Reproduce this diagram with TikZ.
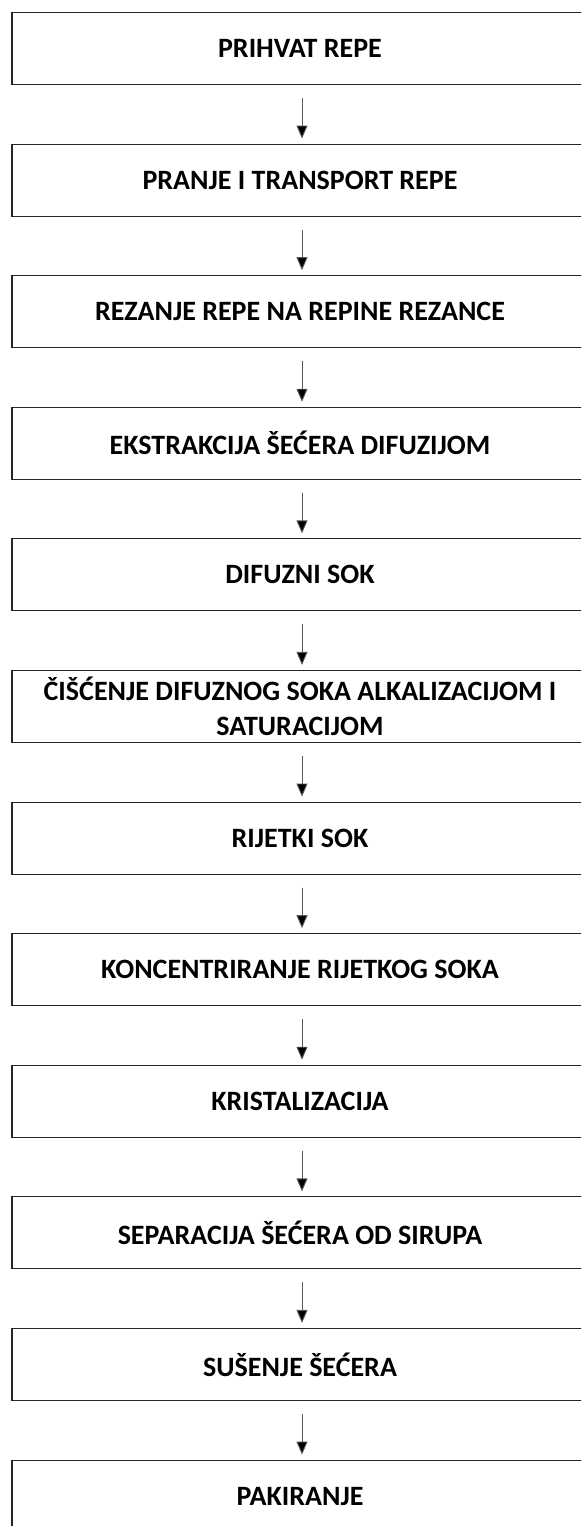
\documentclass[tikz,border=0pt]{standalone}
\usepackage{fontspec}
\setmainfont{Carlito}
\usetikzlibrary{arrows.meta}
\begin{document}
\begin{tikzpicture}[x=1pt,y=-1pt,
  stepbox/.style={draw=black!85, line width=1.1pt, minimum width=576pt, minimum height=72pt,
    inner sep=0pt, align=center, font=\fontsize{28}{35}\selectfont\bfseries},
  flow/.style={draw=black!65, line width=0.9pt, -{Triangle[width=11pt,length=13pt,fill=black]}}]
\useasboundingbox (0,0) rectangle (581,1526);
\clip (0,0) rectangle (581,1526);
\foreach \i/\t in {1/{PRIHVAT REPE},2/{PRANJE I TRANSPORT REPE},3/{REZANJE REPE NA REPINE REZANCE},
  4/{EKSTRAKCIJA ŠEĆERA DIFUZIJOM},5/{DIFUZNI SOK},6/{ČIŠĆENJE DIFUZNOG SOKA ALKALIZACIJOM I\hspace{0.3em}\\SATURACIJOM},
  7/{RIJETKI SOK},8/{KONCENTRIRANJE RIJETKOG SOKA},9/{KRISTALIZACIJA},10/{SEPARACIJA ŠEĆERA OD SIRUPA},
  11/{SUŠENJE ŠEĆERA},12/{PAKIRANJE}}{
  \node[stepbox] (b\i) at (300,{12.5+131.6*(\i-1)+36}) {\t};
}
\foreach \i [evaluate=\i as \j using int(\i+1)] in {1,...,11}{
  \draw[flow] ([xshift=2pt,yshift=-13pt]b\i.south) -- ([xshift=2pt,yshift=5pt]b\j.north);
}
\end{tikzpicture}
\end{document}
